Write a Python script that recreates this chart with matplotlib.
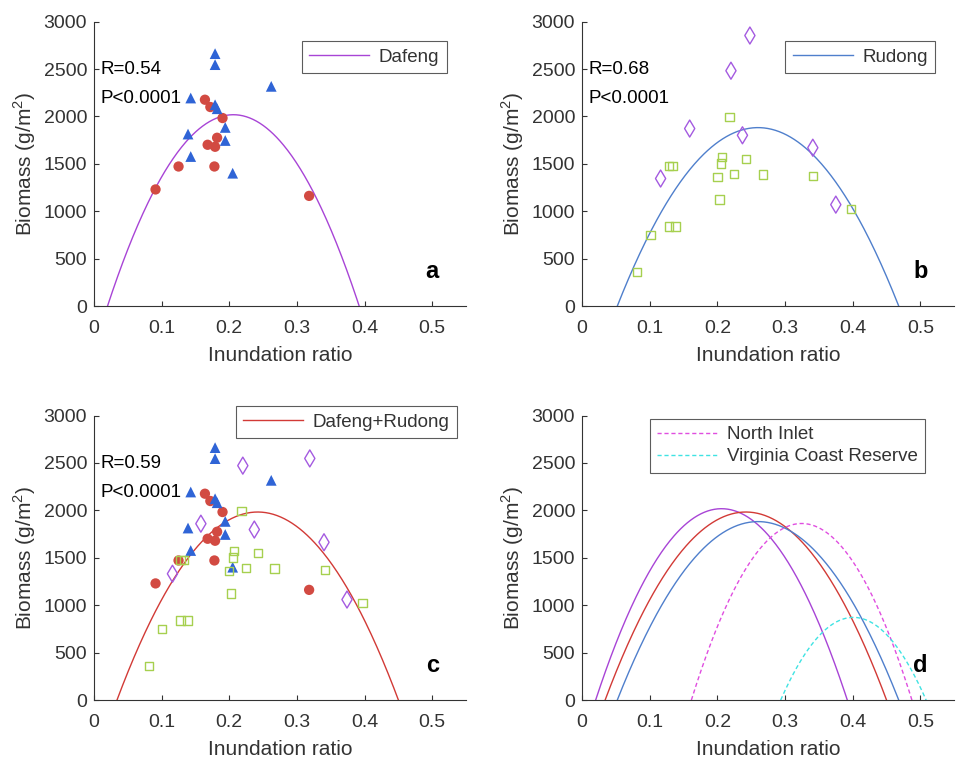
import matplotlib
matplotlib.use("Agg")
import matplotlib.pyplot as plt
import numpy as np

plt.rcParams['font.family'] = ['Liberation Sans', 'DejaVu Sans']
plt.rcParams['mathtext.fontset'] = 'custom'
plt.rcParams['mathtext.rm'] = 'Liberation Sans'

# Dafeng: red circles and blue triangles
dafeng_circ_x = [0.091, 0.125, 0.164, 0.172, 0.190, 0.168, 0.179, 0.182, 0.178, 0.318]
dafeng_circ_y = [1230, 1472, 2176, 2099, 1983, 1701, 1680, 1775, 1472, 1162]
dafeng_tri_x = [0.179, 0.179, 0.262, 0.143, 0.179, 0.182, 0.194, 0.139, 0.194, 0.143, 0.205]
dafeng_tri_y = [2662, 2546, 2317, 2194, 2123, 2081, 1884, 1814, 1746, 1577, 1401]

# Rudong: purple diamonds and green squares (panel b)
rudong_dia_x = [0.248, 0.220, 0.159, 0.237, 0.341, 0.116, 0.375]
rudong_dia_y = [2853, 2482, 1872, 1801, 1670, 1345, 1070]
rudong_sq_x = [0.218, 0.207, 0.205, 0.242, 0.128, 0.1335, 0.200, 0.225, 0.267, 0.341,
               0.203, 0.397, 0.101, 0.128, 0.138, 0.081]
rudong_sq_y = [1991, 1571, 1504, 1554, 1476, 1476, 1363, 1395, 1388, 1374,
               1123, 1024, 752, 840, 840, 357]

# diamonds as shown in the combined panel c
combined_dia_x = [0.220, 0.319, 0.158, 0.237, 0.340, 0.116, 0.374]
combined_dia_y = [2472, 2548, 1860, 1798, 1664, 1332, 1060]

# quadratic fits: (vertex x, peak biomass, half width between roots)
fit_dafeng = (0.206, 2018, 0.186)
fit_rudong = (0.260, 1882, 0.208)
fit_both = (0.242, 1983, 0.208)
fit_north_inlet = (0.3245, 1862, 0.163)
fit_virginia = (0.401, 872, 0.1075)

stats = {'a': ('0.54', '<0.0001'), 'b': ('0.68', '<0.0001'), 'c': ('0.59', '<0.0001')}

C_PURPLE = '#a844d6'
C_BLUE = '#4f7fcc'
C_RED = '#d23a36'
C_MAG = '#e04ee0'
C_CYAN = '#3fe3e3'
AX_COL = '#333333'


def parabola(fit, n=300):
    xv, peak, hw = fit
    x = np.linspace(xv - hw, xv + hw, n)
    y = peak * (1 - ((x - xv) / hw) ** 2)
    return x, y


def style_axes(ax, letter):
    ax.set_xlim(0, 0.55)
    ax.set_ylim(0, 3000)
    ax.set_xticks([0, 0.1, 0.2, 0.3, 0.4, 0.5])
    ax.set_xticklabels(['0', '0.1', '0.2', '0.3', '0.4', '0.5'])
    ax.set_yticks(np.arange(0, 3001, 500))
    for s in ['top', 'right']:
        ax.spines[s].set_visible(False)
    for s in ['left', 'bottom']:
        ax.spines[s].set_color(AX_COL)
        ax.spines[s].set_linewidth(0.8)
    ax.tick_params(direction='in', length=3.5, width=0.8, colors=AX_COL,
                   labelsize=14, pad=5)
    ax.tick_params(axis='x', pad=10)
    ax.set_xlabel('Inundation ratio', fontsize=15, color=AX_COL, labelpad=6.5)
    ax.set_ylabel('Biomass (g/m$^2$)', fontsize=15, color=AX_COL, labelpad=4)
    ax.text(0.5, 365, letter, fontsize=17, fontweight='bold', ha='center',
            va='center', color='black')
    if letter in stats:
        r, p = stats[letter]
        ax.text(0.01, 2490, 'R=' + r, fontsize=13.5, color='black', va='center')
        ax.text(0.01, 2185, 'P' + p, fontsize=13.5, color='black', va='center')


def add_legend(ax, anchor):
    leg = ax.legend(loc='upper right', bbox_to_anchor=anchor, fontsize=13.5,
                    frameon=True, fancybox=False, handlelength=3.2,
                    handletextpad=0.5, borderpad=0.4, labelspacing=0.25,
                    borderaxespad=0)
    leg.get_frame().set_edgecolor(AX_COL)
    leg.get_frame().set_linewidth(0.8)
    for t in leg.get_texts():
        t.set_color(AX_COL)


def draw_dafeng(ax):
    ax.scatter(dafeng_circ_x, dafeng_circ_y, s=55, marker='o', color='#d24a42',
               edgecolors='none', zorder=3)
    ax.scatter(dafeng_tri_x, dafeng_tri_y, s=60, marker='^', color='#2f64d6',
               edgecolors='none', zorder=3)


def draw_rudong(ax, dia_x, dia_y):
    ax.scatter(dia_x, dia_y, s=75, marker='d', facecolors='none',
               edgecolors='#a45ae0', linewidths=1.0, zorder=3)
    ax.scatter(rudong_sq_x, rudong_sq_y, s=36, marker='s', facecolors='none',
               edgecolors='#a6d04f', linewidths=1.0, zorder=3)


fig = plt.figure(figsize=(9.59, 7.71), dpi=100)
w, h = 0.388, 0.369
ax_a = fig.add_axes([0.098, 0.603, w, h])
ax_b = fig.add_axes([0.607, 0.603, w, h])
ax_c = fig.add_axes([0.098, 0.092, w, h])
ax_d = fig.add_axes([0.607, 0.092, w, h])

# a
draw_dafeng(ax_a)
x, y = parabola(fit_dafeng)
ax_a.plot(x, y, color=C_PURPLE, lw=1.0, label='Dafeng', zorder=2)
style_axes(ax_a, 'a')
add_legend(ax_a, (0.948, 0.931))

# b
draw_rudong(ax_b, rudong_dia_x, rudong_dia_y)
x, y = parabola(fit_rudong)
ax_b.plot(x, y, color=C_BLUE, lw=1.0, label='Rudong', zorder=2)
style_axes(ax_b, 'b')
add_legend(ax_b, (0.949, 0.931))

# c
draw_dafeng(ax_c)
draw_rudong(ax_c, combined_dia_x, combined_dia_y)
x, y = parabola(fit_both)
ax_c.plot(x, y, color=C_RED, lw=1.0, label='Dafeng+Rudong', zorder=2)
style_axes(ax_c, 'c')
add_legend(ax_c, (0.975, 1.033))

# d
for fit, col in [(fit_dafeng, C_PURPLE), (fit_both, C_RED), (fit_rudong, C_BLUE)]:
    x, y = parabola(fit)
    ax_d.plot(x, y, color=col, lw=1.0, label='_nolegend_')
x, y = parabola(fit_north_inlet)
ax_d.plot(x, y, color=C_MAG, lw=1.0, ls=(0, (3, 2)), label='North Inlet')
x, y = parabola(fit_virginia)
ax_d.plot(x, y, color=C_CYAN, lw=1.0, ls=(0, (3, 2)), label='Virginia Coast Reserve')
style_axes(ax_d, 'd')
add_legend(ax_d, (0.922, 0.989))

fig.savefig('out.png', dpi=100)
